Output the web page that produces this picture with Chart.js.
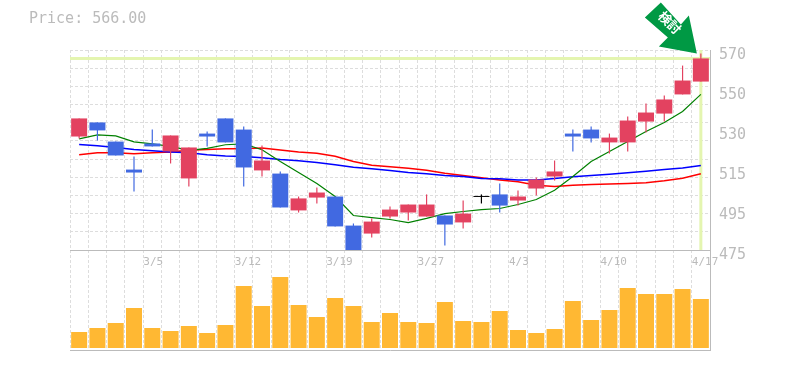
<!DOCTYPE html>
<html>
<head>
<meta charset="utf-8">
<title>Price</title>
<script src="https://cdn.jsdelivr.net/npm/chart.js@4/dist/chart.umd.min.js"></script>
<style>
  body { margin: 0; background: #fff; }
  #price { position: absolute; left: 29px; top: 9px; font: 15px "DejaVu Sans Mono", monospace; color: #bbb; white-space: pre; }
  canvas { position: absolute; left: 0; top: 0; }
</style>
</head>
<body>
<canvas id="stock" width="785" height="370"></canvas>
<div id="price">Price: 566.00</div>
<script>
const categories = ['2/27','2/28','3/1','3/2','3/5','3/6','3/7','3/8','3/9','3/12','3/13','3/14','3/15','3/16','3/19','3/20','3/22','3/23','3/26','3/27','3/28','3/29','3/30','4/2','4/3','4/4','4/5','4/6','4/9','4/10','4/11','4/12','4/13','4/16','4/17'];
const opens  = [528.9,535.6,526.5,513.2,525.6,521.8,509,530.3,537.5,532.2,512.8,511.3,493.8,499.9,500.4,486.6,482.8,490.9,492.8,490.9,491.4,488.1,500.6,501.4,498.5,504.2,509.9,530.3,532.2,526.1,526.1,536,539.8,548.9,555];
const closes = [537.5,531.8,519.9,511.8,524.2,529.4,523.7,528.9,526.1,514.2,517.5,495.2,499.5,502.3,486.2,475,488.5,494.2,496.6,496.6,487.1,492.3,500.2,496.1,500.4,508.5,512.3,528.9,528,528.4,536.5,540.3,546.5,555.5,566];
const highs  = [537.5,535.6,526.5,519.4,532.2,529.4,523.7,531.3,537.5,533.7,524.6,512.3,500.4,504.7,500.4,487.6,490,495.7,496.6,501.4,491.4,498.5,501.4,506.6,503.3,509.4,517.5,532.2,533.7,530.3,538.4,544.6,548.4,562.6,568.3];
const lows   = [528,527,519.9,502.8,524.2,516.1,505.2,524.2,526.1,505.2,509.9,495.2,492.8,497.1,486.2,475,480.9,490,489,490.9,477.1,485.2,497.1,492.8,496.1,500.9,508,521.8,526.1,520.8,521.8,530.8,536,548.9,555];
const maShort = [527.8,529.7,529.2,526.4,525.4,524.2,522.3,523.3,525,525.4,522.6,517,511.8,506.6,500.4,491.4,490.4,489.5,488,490,492.3,493.3,494.2,494.7,496.6,499,503.4,509.9,517,521.8,526.5,531.3,535.6,540.8,548.9];
const maMid   = [525.1,524.5,523.7,522.7,522.1,521.6,521.2,520.2,519.7,519.4,518.8,518,517.4,516.6,515.5,514.3,513.6,512.8,511.8,511.2,510.4,509.9,509,508.8,508.3,508.3,509,509.8,510.4,511,511.7,512.4,513.2,514,515.1];
const maLong  = [520.2,521.2,521.2,520.7,521.2,521.6,522.4,522.7,523.1,523.1,523.5,522.5,521.6,521,519.5,517,515.3,514.5,513.8,512.9,511.5,510.4,509.3,508.3,507.4,505.8,505.2,505.8,506.1,506.4,506.6,506.9,507.9,509.1,511.2];
const volumes = [16,20,25,40,20,17,22,15,23,62,42,71,43,31,50,42,26,35,26,25,46,27,26,37,18,15,19,47,28,38,60,54,54,59,49];
const yTickValues = [570,551,532,513,494,475];
const yTickLabels = ['570','550','530','515','495','475'];
const currentPrice = 566;

const RED = '#e34260', BLUE = '#4169e1', BLACK = '#000000';
const GRID = '#dddddd', AXIS = '#bbbbbb', HILITE = '#e4f5b0';

function candleColor(i) {
    if (Math.abs(closes[i] - opens[i]) < 0.5) return BLACK;
    return closes[i] > opens[i] ? RED : BLUE;
}
const colors = categories.map((c, i) => candleColor(i));

// current price cross and the green arrow
const marks = {
    id: 'marks',
    beforeDatasetsDraw(chart) {
        const { ctx, chartArea, scales } = chart;
        const py = scales.y.getPixelForValue(currentPrice);
        const px = scales.x.getPixelForValue(categories.length - 1);
        ctx.save();
        ctx.strokeStyle = HILITE;
        ctx.lineWidth = 3;
        ctx.beginPath();
        ctx.moveTo(chartArea.left, py);
        ctx.lineTo(chartArea.right, py);
        ctx.moveTo(px, chartArea.top);
        ctx.lineTo(px, scales.y.bottom);
        ctx.stroke();
        ctx.restore();
    },
    afterDraw(chart) {
        const { ctx, scales } = chart;
        const x = scales.x.getPixelForValue(categories.length - 1) - 4;
        const y = scales.y.getPixelForValue(highs[highs.length - 1]);
        ctx.save();
        ctx.translate(x, y);
        ctx.fillStyle = '#009944';
        ctx.beginPath();
        ctx.moveTo(0, 0);
        ctx.lineTo(-38, -7);
        ctx.lineTo(-29, -16);
        ctx.lineTo(-52, -36);
        ctx.lineTo(-36, -51);
        ctx.lineTo(-16, -29);
        ctx.lineTo(-8, -38);
        ctx.closePath();
        ctx.fill();
        ctx.translate(-27, -31);
        ctx.rotate(Math.PI / 4);
        ctx.fillStyle = '#fff';
        ctx.font = 'bold 13px "Noto Sans CJK JP"';
        ctx.textAlign = 'center';
        ctx.textBaseline = 'middle';
        ctx.fillText('検討', 0, 0);
        ctx.restore();
    }
};

function fixWidth(scale) { scale.width = 75; }

new Chart(document.getElementById('stock'), {
    type: 'bar',
    plugins: [marks],
    data: {
        labels: categories,
        datasets: [
            { label: 'body', data: categories.map((c, i) => [opens[i], closes[i]]), backgroundColor: colors, barThickness: 16, minBarLength: 1, inflateAmount: 0, grouped: false, order: 1 },
            { label: 'wick', data: categories.map((c, i) => [lows[i], highs[i]]), backgroundColor: colors, barThickness: 1.2, inflateAmount: 0, grouped: false, order: 2 },
            { type: 'line', label: 'ma1', data: maShort, borderColor: '#008000', borderWidth: 1.2, pointRadius: 0, order: 3 },
            { type: 'line', label: 'ma2', data: maMid, borderColor: '#0000ff', borderWidth: 1.5, pointRadius: 0, order: 4 },
            { type: 'line', label: 'ma3', data: maLong, borderColor: '#ff0000', borderWidth: 1.5, pointRadius: 0, order: 5 },
            { label: 'volume', data: volumes, yAxisID: 'v', backgroundColor: '#ffb833', barThickness: 16, inflateAmount: 0, grouped: false, order: 6 }
        ]
    },
    options: {
        responsive: false,
        animation: false,
        layout: { padding: { left: 70, right: 0, top: 50, bottom: 20 } },
        plugins: { legend: { display: false }, tooltip: { enabled: false } },
        scales: {
            x: {
                type: 'category',
                offset: true,
                position: { y: 475 },
                border: { color: AXIS, width: 1, dash: [3, 2] },
                grid: { offset: true, color: GRID, drawTicks: false },
                ticks: {
                    autoSkip: false,
                    maxRotation: 0,
                    minRotation: 0,
                    align: 'start',
                    labelOffset: -9,
                    padding: 6,
                    color: AXIS,
                    font: { family: '"DejaVu Sans Mono", monospace', size: 11 },
                    callback(v, i) { return i % 5 === 4 ? categories[i] : ''; }
                }
            },
            x2: {
                type: 'category',
                labels: categories,
                offset: true,
                position: 'bottom',
                border: { color: AXIS, width: 1 },
                grid: { display: false, drawTicks: false },
                ticks: { display: false }
            },
            y: {
                position: 'right',
                stack: 'panels',
                stackWeight: 2,
                min: 475,
                max: 570,
                border: { color: AXIS, width: 1, dash: [3, 2] },
                afterFit: fixWidth,
                afterBuildTicks(scale) {
                    const grid = [];
                    for (let k = 0; k <= 11; k++) grid.push({ value: k === 11 ? 570 : 475 + k * 95 / 11 });
                    scale.ticks = grid.concat(yTickValues.slice(1, -1).map(value => ({ value, labelOnly: true })));
                },
                grid: {
                    drawTicks: false,
                    color: GRID,
                    lineWidth: ctx => (ctx.tick && ctx.tick.labelOnly ? 0 : 1)
                },
                ticks: {
                    autoSkip: false,
                    padding: 9,
                    labelOffset: 5,
                    color: AXIS,
                    font: { family: '"DejaVu Sans Mono", monospace', size: 15 },
                    callback(v) {
                        const i = yTickValues.indexOf(v);
                        return i >= 0 ? yTickLabels[i] : '';
                    }
                }
            },
            v: {
                position: 'right',
                stack: 'panels',
                stackWeight: 1,
                min: -2,
                max: 98,
                border: { color: AXIS, width: 1 },
                afterFit: fixWidth,
                grid: { display: false, drawTicks: false },
                ticks: { display: false }
            }
        }
    }
});
</script>
</body>
</html>
